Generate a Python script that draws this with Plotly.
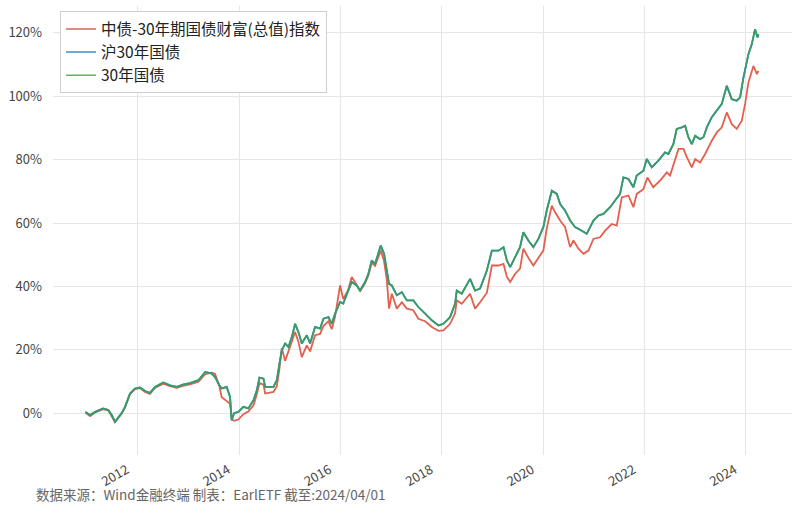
import plotly.graph_objects as go

# ---- data (cumulative return, %) ----
green_dates = [
    "2010-12-20", "2011-01-23", "2011-03-01", "2011-04-28", "2011-06-04", "2011-06-28",
    "2011-07-22", "2011-08-15", "2011-09-08", "2011-10-02", "2011-11-07", "2011-12-13",
    "2012-01-18", "2012-02-23", "2012-03-30", "2012-05-05", "2012-07-04", "2012-08-22",
    "2012-10-10", "2012-11-27", "2013-01-13", "2013-03-14", "2013-05-02", "2013-06-19",
    "2013-07-12", "2013-08-12", "2013-08-29", "2013-10-04", "2013-10-28", "2013-11-09",
    "2013-11-26", "2013-12-27", "2014-02-01", "2014-03-09", "2014-04-15", "2014-05-09",
    "2014-05-28", "2014-06-26", "2014-07-08", "2014-09-06", "2014-09-30", "2014-10-19",
    "2014-11-05", "2014-11-29", "2014-12-23", "2015-01-16", "2015-02-09", "2015-03-05",
    "2015-03-29", "2015-05-04", "2015-05-28", "2015-07-03", "2015-08-08",
    "2015-09-01", "2015-10-07", "2015-10-31", "2015-11-24", "2015-12-30", "2016-01-22",
    "2016-02-27", "2016-03-23", "2016-04-28", "2016-05-22", "2016-06-27", "2016-07-21",
    "2016-08-14", "2016-09-07", "2016-10-18", "2016-11-11", "2016-12-01", "2016-12-17",
    "2017-01-06", "2017-02-11", "2017-03-19", "2017-04-24", "2017-06-10", "2017-07-16",
    "2017-09-03", "2017-10-21", "2017-12-08", "2018-01-13", "2018-03-02", "2018-04-07",
    "2018-04-19", "2018-05-25", "2018-07-24", "2018-08-29", "2018-10-04", "2018-11-22",
    "2018-12-28", "2019-02-14", "2019-03-22", "2019-04-15", "2019-05-09", "2019-06-14",
    "2019-07-19", "2019-08-12", "2019-09-17", "2019-10-23", "2019-11-28", "2020-01-03",
    "2020-01-27", "2020-03-04", "2020-04-09", "2020-05-03", "2020-06-08", "2020-07-14",
    "2020-08-19", "2020-10-06", "2020-11-11", "2020-12-29", "2021-02-03", "2021-03-11",
    "2021-04-28", "2021-06-03", "2021-07-09", "2021-08-02", "2021-09-07", "2021-10-13",
    "2021-11-06", "2021-12-24", "2022-01-17", "2022-02-22", "2022-04-11", "2022-05-29",
    "2022-06-22", "2022-07-28", "2022-08-21", "2022-09-27", "2022-10-21", "2022-11-13",
    "2022-12-08", "2023-01-01", "2023-02-06", "2023-03-02", "2023-03-26", "2023-05-01",
    "2023-06-06", "2023-07-12", "2023-08-17", "2023-09-22", "2023-10-28", "2023-11-21",
    "2023-12-15", "2024-01-20", "2024-02-13", "2024-03-08", "2024-03-25", "2024-04-01",
]
green_values = [
    0.4, -0.6, 0.4, 1.5, 1.0, -0.6,
    -2.7, -1.2, 0.0, 2.0, 6.2, 7.8,
    8.1, 7.0, 6.4, 8.3, 9.7, 8.8,
    8.3, 9.1, 9.5, 10.4, 13.0, 12.5,
    11.4, 8.8, 7.8, 8.3, 5.1, -2.2,
    0.0, 0.4, 2.0, 1.5, 4.1, 7.2,
    11.2, 10.9, 8.3, 8.3, 10.4, 15.6,
    19.8, 22.0, 20.9, 24.0, 28.2, 25.6,
    22.0, 24.6, 22.0, 27.2, 26.7,
    29.8, 30.3, 28.2, 31.4, 35.1, 34.6,
    38.7, 41.4, 40.3, 38.7, 41.4, 44.0,
    48.2, 47.1, 52.9, 50.3, 45.0, 40.8,
    40.3, 37.2, 38.2, 35.6, 35.6, 33.5,
    31.4, 29.3, 27.7, 28.2, 30.3, 34.6,
    38.7, 37.7, 42.4, 38.7, 39.3, 45.0,
    51.3, 51.3, 52.4, 48.2, 46.1, 49.3,
    52.4, 57.1, 54.5, 52.4, 55.0, 58.7,
    63.9, 70.2, 69.2, 66.0, 63.9, 60.8,
    58.7, 57.6, 56.6, 60.8, 62.4, 62.9,
    65.0, 67.1, 69.2, 74.4, 73.9, 71.3,
    75.0, 76.5, 80.2, 77.6, 79.7, 82.3,
    81.8, 84.9, 89.7, 90.2, 90.7, 87.1,
    84.9, 87.5, 86.5, 87.1, 90.2, 93.4,
    95.4, 97.6, 103.3, 99.1, 98.6, 99.7,
    105.9, 113.3, 116.4, 121.2, 118.6, 119.6,
]

# 沪30年国债 tracks 30年国债 almost exactly (hidden beneath it in the reference)
blue_dates = green_dates
blue_values = green_values

red_dates = [
    "2010-12-20", "2011-01-23", "2011-03-01", "2011-04-28", "2011-06-04", "2011-06-28",
    "2011-07-22", "2011-08-15", "2011-09-08", "2011-10-02", "2011-11-07", "2011-12-13",
    "2012-01-18", "2012-02-23", "2012-03-30", "2012-05-05", "2012-07-04", "2012-08-22",
    "2012-10-10", "2012-11-27", "2013-01-13", "2013-03-14", "2013-05-02", "2013-06-19",
    "2013-07-12", "2013-08-12", "2013-08-29", "2013-10-04", "2013-10-28", "2013-11-09",
    "2013-11-26", "2013-12-27", "2014-02-01", "2014-03-09", "2014-04-15", "2014-05-09",
    "2014-05-28", "2014-06-26", "2014-07-08", "2014-09-06", "2014-09-30", "2014-10-19",
    "2014-11-05", "2014-11-29", "2014-12-23", "2015-01-16", "2015-02-09", "2015-03-05",
    "2015-03-29", "2015-05-04", "2015-05-28", "2015-07-03", "2015-08-08",
    "2015-09-01", "2015-10-07", "2015-10-31", "2015-11-24", "2015-12-30", "2016-01-22",
    "2016-02-27", "2016-03-23", "2016-04-28", "2016-05-22", "2016-06-27", "2016-07-21",
    "2016-08-14", "2016-09-07", "2016-10-18", "2016-11-11", "2016-12-01", "2016-12-17",
    "2017-01-06", "2017-02-11", "2017-03-19", "2017-04-24", "2017-06-10", "2017-07-16",
    "2017-09-03", "2017-10-21", "2017-12-08", "2018-01-13", "2018-03-02", "2018-04-07",
    "2018-04-19", "2018-05-25", "2018-07-24", "2018-08-29", "2018-10-04", "2018-11-22",
    "2018-12-28", "2019-02-14", "2019-03-22", "2019-04-15", "2019-05-09", "2019-06-14",
    "2019-07-19", "2019-08-12", "2019-09-17", "2019-10-23", "2019-11-28", "2020-01-03",
    "2020-01-27", "2020-03-04", "2020-03-28", "2020-05-03", "2020-06-08", "2020-07-14",
    "2020-08-07", "2020-09-12", "2020-10-18", "2020-11-23", "2020-12-29", "2021-02-15",
    "2021-03-23", "2021-05-10", "2021-06-15", "2021-07-21", "2021-09-07", "2021-10-13",
    "2021-11-06", "2021-12-24", "2022-01-22", "2022-03-05", "2022-04-23", "2022-06-11",
    "2022-07-04", "2022-08-10", "2022-09-03", "2022-10-09", "2022-11-02", "2022-12-08",
    "2023-01-01", "2023-02-06", "2023-03-14", "2023-05-01", "2023-06-06", "2023-07-12",
    "2023-08-17", "2023-09-22", "2023-10-28", "2023-12-03", "2023-12-27", "2024-01-20",
    "2024-02-25", "2024-03-21", "2024-04-01",
]
red_values = [
    0.2, -0.9, 0.2, 1.3, 0.8, -0.8,
    -2.8, -1.4, -0.1, 1.8, 6.0, 7.6,
    7.9, 6.7, 6.1, 8.0, 9.3, 8.5,
    8.0, 8.7, 9.1, 9.9, 12.3, 12.8,
    12.4, 8.5, 5.0, 3.8, 3.0, -2.0,
    -2.4, -2.0, -0.3, 0.5, 2.5, 6.0,
    9.5, 9.0, 6.2, 6.7, 8.5, 14.0,
    20.5, 16.5, 19.5, 22.0, 25.6, 22.5,
    17.7, 21.4, 19.5, 24.6, 25.0,
    27.5, 29.0, 26.5, 30.5, 40.3, 36.0,
    39.0, 43.0, 40.5, 38.5, 41.0, 43.5,
    47.5, 46.5, 51.3, 48.0, 42.0, 33.0,
    37.7, 33.0, 35.0, 33.0, 32.5, 29.8,
    29.0, 27.2, 26.0, 26.1, 28.2, 31.5,
    35.6, 34.5, 37.7, 33.0, 35.0, 38.0,
    46.6, 46.6, 47.1, 43.0, 41.4, 44.0,
    45.6, 51.9, 49.0, 46.6, 49.0, 51.3,
    58.2, 65.5, 63.4, 60.8, 58.7, 52.4,
    54.5, 51.9, 50.3, 51.3, 55.0, 55.5,
    57.6, 59.7, 59.2, 68.1, 68.7, 65.0,
    69.2, 70.7, 74.4, 71.3, 73.4, 76.0,
    75.0, 79.7, 83.4, 83.4, 80.8, 77.6,
    80.2, 79.1, 81.8, 86.0, 88.6, 90.2,
    94.9, 91.2, 89.7, 92.3, 97.6, 104.4,
    109.6, 107.0, 108.0,
]

series_names = ["中债-30年期国债财富(总值)指数", "沪30年国债", "30年国债"]
year_ticks = ["2012-01-01", "2014-01-01", "2016-01-01", "2018-01-01",
              "2020-01-01", "2022-01-01", "2024-01-01"]
year_labels = ["2012", "2014", "2016", "2018", "2020", "2022", "2024"]
pct_ticks = [0, 20, 40, 60, 80, 100, 120]
footer = "数据来源：Wind金融终端 制表：EarlETF 截至:2024/04/01"

line_colors = ["#e2604e", "#3a8fd0", "#3a9c62"]
legend_colors = ["#d9625a", "#3c8fc8", "#66b166"]

FONT = "Noto Sans CJK SC, Noto Sans, sans-serif"

fig = go.Figure()
for (xs, ys, c) in [(red_dates, red_values, line_colors[0]),
                    (blue_dates, blue_values, line_colors[1]),
                    (green_dates, green_values, line_colors[2])]:
    fig.add_trace(go.Scatter(x=xs, y=ys, mode="lines", showlegend=False,
                             line=dict(color=c, width=1.8), hoverinfo="skip"))
# legend entries
for name, c in zip(series_names, legend_colors):
    fig.add_trace(go.Scatter(x=[None], y=[None], mode="lines", name=name,
                             line=dict(color=c, width=1.5)))

fig.update_layout(
    width=800, height=510,
    margin=dict(l=53, r=8, t=6, b=55, autoexpand=False),
    paper_bgcolor="white", plot_bgcolor="white",
    font=dict(family=FONT, size=12, color="#444"),
    legend=dict(x=0.0095, y=0.988, xanchor="left", yanchor="top",
                bgcolor="white", bordercolor="#cfcfcf", borderwidth=1,
                font=dict(size=15.5, color="#222"), tracegroupgap=0,
                itemwidth=30),
    annotations=[dict(text=footer, xref="paper", yref="paper",
                      x=-0.026, y=-0.087, xanchor="left", yanchor="middle",
                      showarrow=False, font=dict(size=13.5, color="#666"))],
)
fig.update_xaxes(
    type="date", range=["2010-05-01", "2024-11-29"], automargin=False,
    tickvals=year_ticks, ticktext=year_labels, tickangle=-30,
    showgrid=True, gridcolor="#e6e6e6", gridwidth=1,
    showline=False, zeroline=False, ticks="",
    ticklabelstandoff=4, ticklabelshift=-11,
    tickfont=dict(size=13, color="#444"),
)
fig.update_yaxes(
    range=[-13.2, 128.5], tickvals=pct_ticks, automargin=False,
    ticktext=[f"{v}%" for v in pct_ticks],
    showgrid=True, gridcolor="#e6e6e6", gridwidth=1,
    showline=False, zeroline=False, ticks="",
    ticklabelstandoff=10,
    tickfont=dict(size=13, color="#444"),
)

fig.write_html("out.html", config={"displayModeBar": False},
               post_script="document.body.style.margin='0';document.body.style.padding='0';")
